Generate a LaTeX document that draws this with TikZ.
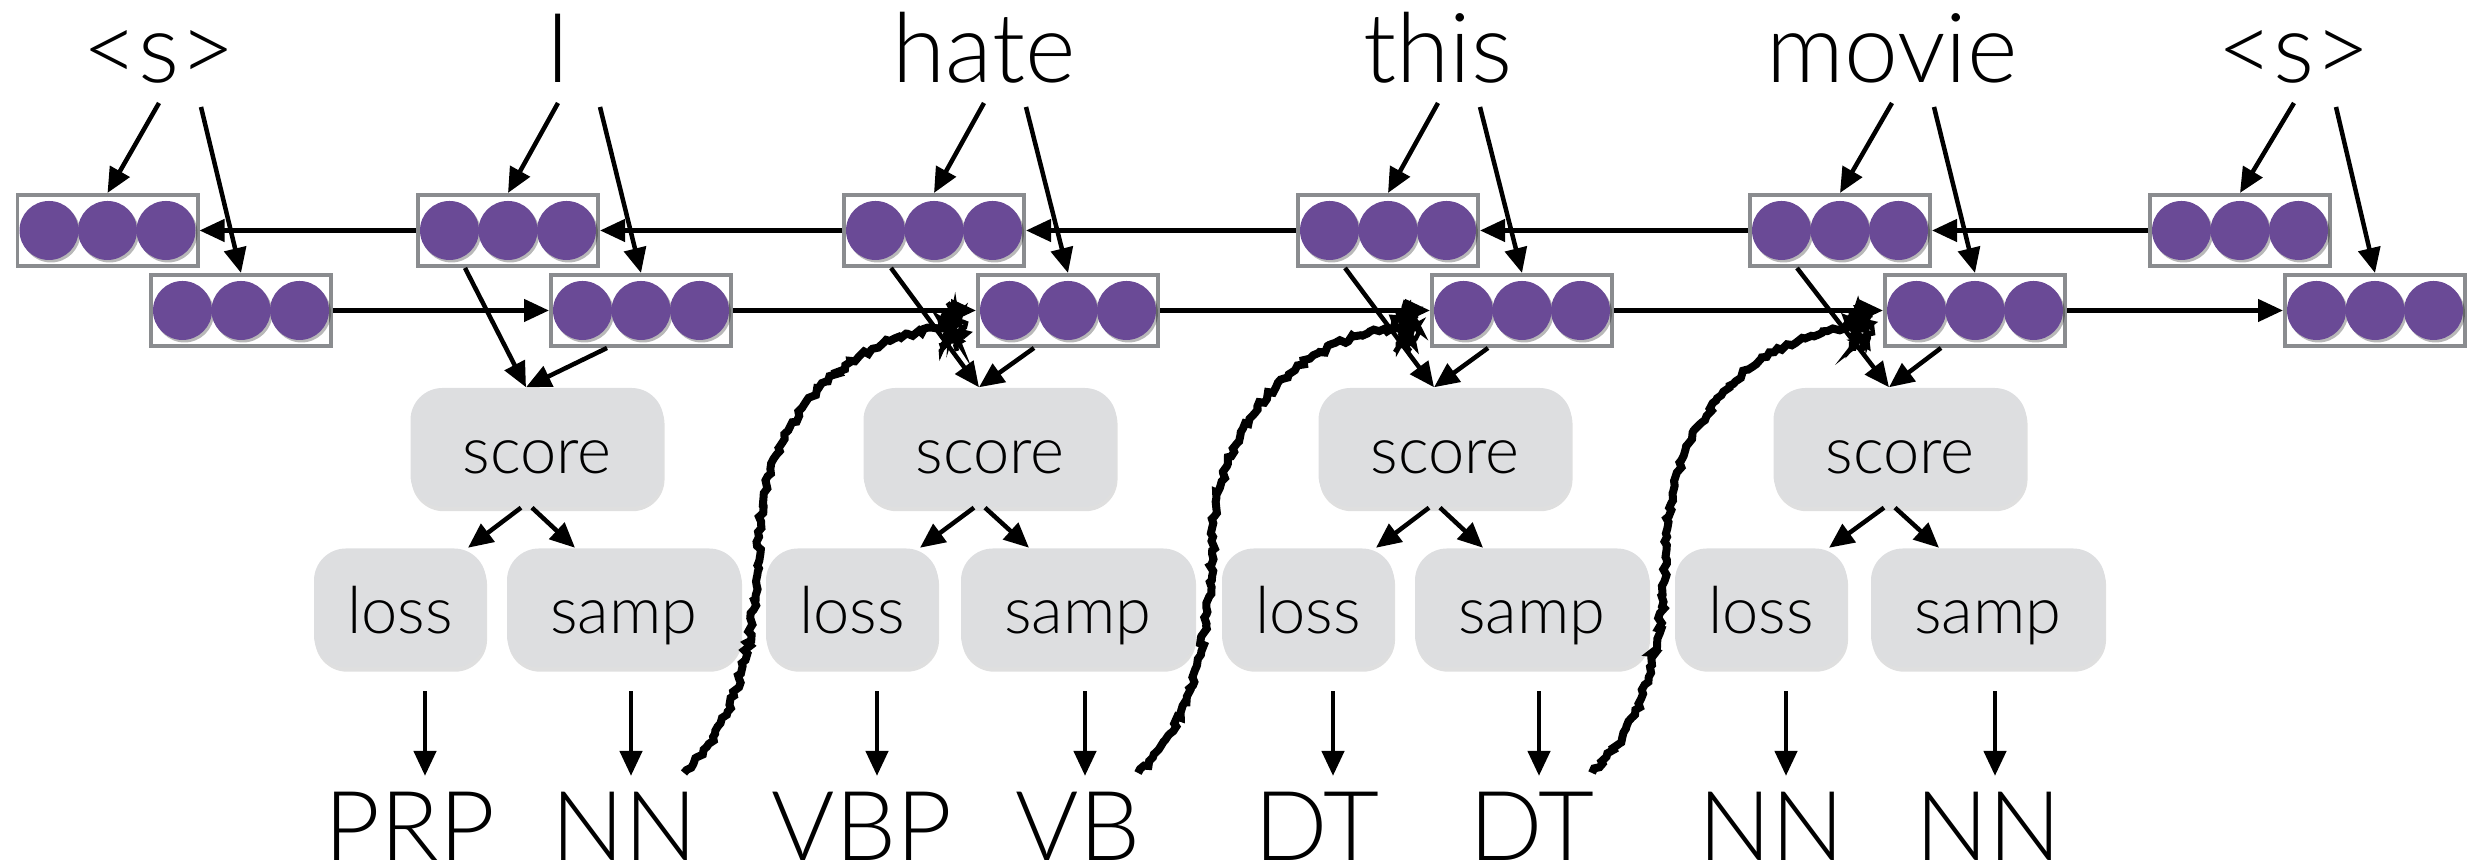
\documentclass[tikz,border=0pt]{standalone}
\usepackage{fontspec}
\setmainfont{Lato}[UprightFont=* Light]
\usetikzlibrary{arrows.meta,shadows,decorations.pathmorphing,calc}
\definecolor{vpurple}{RGB}{106,74,150}
\definecolor{vgray}{RGB}{138,140,143}
\definecolor{bfill}{RGB}{221,222,224}
\begin{document}
\begin{tikzpicture}[
  vec/.style={draw=vgray, line width=0.04cm, fill=white, minimum width=1.80cm, minimum height=0.71cm, inner sep=0pt},
  word/.style={font=\fontsize{27.5}{33}\selectfont, inner sep=0pt, anchor=base},
  tag/.style={font=\fontsize{27.5}{33}\selectfont, inner sep=0pt, anchor=base},
  op/.style={fill=bfill, rounded corners=0.32cm, minimum height=1.19cm, inner sep=0pt,
    text height=0.52cm, text depth=0pt,
    font=\fontsize{18.5}{22}\selectfont,
    drop shadow={shadow xshift=0.3pt, shadow yshift=-1.2pt, opacity=0.25}},
  arr/.style={-{Triangle[length=0.25cm,width=0.22cm]}, line width=0.045cm},
  sketch/.style={line width=0.08cm, decorate, decoration={random steps, segment length=1.2pt, amplitude=0.7pt}},
  scrib/.style={line width=0.045cm, decorate, decoration={random steps, segment length=1pt, amplitude=0.8pt}},
]
\useasboundingbox (0,0) rectangle (24.87,8.67);
\pgfmathsetseed{7}

% words
\node[word] (w1) at (1.59,7.84) {<s>};
\node[word] (w2) at (5.58,7.84) {I};
\node[word] (w3) at (9.84,7.84) {hate};
\node[word] (w4) at (14.38,7.84) {this};
\node[word] (w5) at (18.92,7.84) {movie};
\node[word] (w6) at (22.94,7.84) {<s>};

% vector boxes
\foreach \i/\x in {1/1.075,2/5.08,3/9.34,4/13.88,5/18.40,6/22.40}
  \node[vec] (b\i) at (\x,6.365) {};
\foreach \i/\x in {1/2.41,2/6.41,3/10.68,4/15.22,5/19.75,6/23.75}
  \node[vec] (f\i) at (\x,5.565) {};
\foreach \n in {b1,b2,b3,b4,b5,b6,f1,f2,f3,f4,f5,f6}{
  \foreach \dx in {-0.585,0,0.585}{
    \fill[black,opacity=0.28] ([shift={(\dx+0.02,-0.025)}]\n.center) circle (0.295);
    \fill[vpurple] ([xshift=\dx cm]\n.center) circle (0.295);
  }
}

% score / loss / samp
\foreach \k/\x in {1/5.37,2/9.90,3/14.45,4/19.00}
  \node[op, minimum width=2.53cm] (s\k) at (\x,4.195) {score};
\foreach \k/\x in {1/4.00,2/8.52,3/13.08,4/17.61}
  \node[op, minimum width=1.72cm] (l\k) at (\x,2.59) {loss};
\foreach \k/\x in {1/6.24,2/10.78,3/15.32,4/19.88}
  \node[op, minimum width=2.34cm] (m\k) at (\x,2.59) {samp};

% tags
\node[tag] (lp1) at (4.10,0.06) {PRP};
\node[tag] (mp1) at (6.24,0.06) {NN};
\node[tag] (lp2) at (8.62,0.06) {VBP};
\node[tag] (mp2) at (10.78,0.06) {VB};
\node[tag] (lp3) at (13.17,0.06) {DT};
\node[tag] (mp3) at (15.32,0.06) {DT};
\node[tag] (lp4) at (17.71,0.06) {NN};
\node[tag] (mp4) at (19.88,0.06) {NN};

% word -> vectors
\foreach \i in {1,...,6}{
  \draw[arr] ([yshift=-0.2cm]w\i.base) -- (b\i.north);
  \draw[arr] ([xshift=0.42cm,yshift=-0.24cm]w\i.base) -- (f\i.north);
}

% recurrent connections
\foreach \i/\j in {2/1,3/2,4/3,5/4,6/5}
  \draw[arr] (b\i.west) -- (b\j.east);
\foreach \i/\j in {1/2,2/3,3/4,4/5,5/6}
  \draw[arr] (f\i.east) -- (f\j.west);

% vectors -> score -> loss/samp -> tags
\foreach \k/\b in {1/2,2/3,3/4,4/5}{
  \draw[arr] ([xshift=-0.43cm]b\b.south) -- ([xshift=-0.11cm]s\k.north);
  \draw[arr] ([xshift=-0.34cm]f\b.south) -- ([xshift=-0.11cm]s\k.north);
  \draw[arr] ([xshift=-0.16cm]s\k.south) -- ([xshift=0.68cm]l\k.north);
  \draw[arr] ([xshift=-0.05cm]s\k.south) -- ([xshift=-0.49cm]m\k.north);
  \draw[arr, shorten >=0.16cm] ([xshift=0.25cm,yshift=-0.23cm]l\k.south) -- ([xshift=0.25cm]l\k.south |- lp\k.north);
  \draw[arr, shorten >=0.16cm] ([xshift=0.07cm,yshift=-0.23cm]m\k.south) -- ([xshift=0.07cm]m\k.south |- mp\k.north);
}

% sampled tag fed back (hand-drawn)
\foreach \k/\f in {1/3,2/4,3/5}{
  \coordinate (st\k) at ([xshift=0.6cm,yshift=0.88cm]mp\k.base);
  \coordinate (md\k) at ($(st\k)+(0.75,2.36)$);
  \coordinate (e\k) at ([xshift=-0.25cm,yshift=-0.165cm]f\f.west);
  \draw[sketch] (st\k) .. controls +(0.62,0.56) and +(-0.03,-0.8) .. (md\k)
    .. controls +(0.03,1.0) and +(-1.2,-0.1) .. (e\k);
  \begin{scope}[shift={(e\k)}]
    \draw[scrib] (-0.16,-0.04) -- (0.04,0.22) -- (-0.07,-0.22) -- (0.12,0.17)
      -- (-0.1,-0.25) -- (0.15,0.04) -- (-0.13,0.1) -- (0.1,-0.2) -- (0.0,0.24)
      -- (-0.05,-0.15) -- (0.17,-0.06) -- (-0.08,0.16) -- (0.06,-0.24);
  \end{scope}
}
\end{tikzpicture}
\end{document}
